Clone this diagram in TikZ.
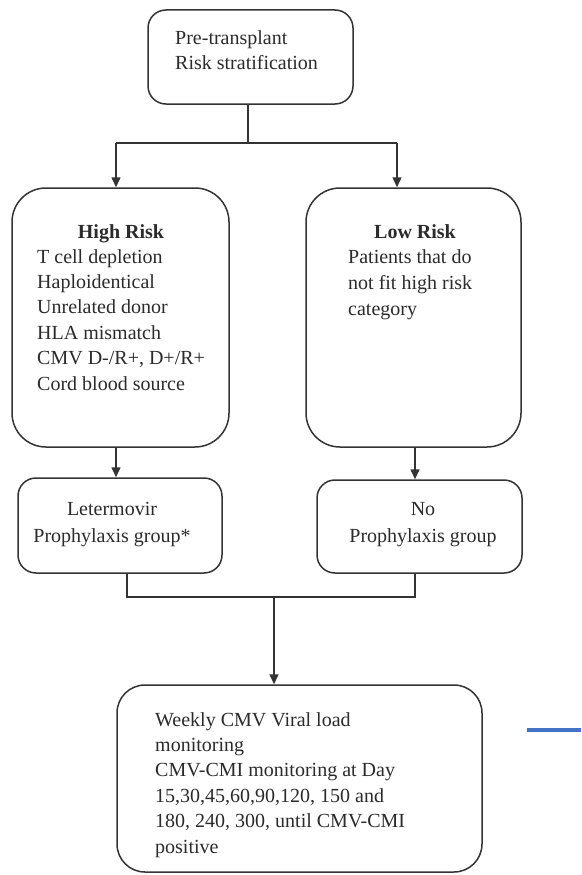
\documentclass[tikz,border=0pt]{standalone}
\usepackage{fontspec}
\setmainfont{Liberation Serif}
\usetikzlibrary{arrows.meta}
\definecolor{ink}{HTML}{333333}
\definecolor{txt}{HTML}{2B2B2B}
\definecolor{accent}{HTML}{4472C4}
\tikzset{
  box/.style={draw=ink, line width=1.5pt, inner sep=0pt, fill=white},
  label/.style={inner sep=0pt, text=txt, font=\fontsize{20}{25.4}\selectfont},
  conn/.style={draw=ink, line width=1.5pt},
  arr/.style={conn, -{Triangle[length=10pt,width=9pt]}},
}
\begin{document}
\begin{tikzpicture}[x=1pt,y=-1pt]
\useasboundingbox (0,0) rectangle (581,875);
% boxes
\node[box, rounded corners=18pt, minimum width=205pt, minimum height=94pt] (top) at (250.5,57) {};
\node[box, rounded corners=34pt, minimum width=217pt, minimum height=259pt] (high) at (120.5,317.5) {};
\node[box, rounded corners=34pt, minimum width=215pt, minimum height=259pt] (low) at (413.5,317.5) {};
\node[box, rounded corners=18pt, minimum width=204pt, minimum height=95pt] (let) at (120,525.5) {};
\node[box, rounded corners=18pt, minimum width=205pt, minimum height=93pt] (nop) at (419.5,526.5) {};
\node[box, rounded corners=28pt, minimum width=365pt, minimum height=187pt] (mon) at (299.5,778.5) {};
% texts
\node[label, anchor=north west, align=left] (toptext) at (175,30) {Pre-transplant\\Risk stratification};
\node[label, anchor=base] (hightitle) at (121,238) {\textbf{High Risk}};
\node[label, anchor=north west, align=left] (hightext) at (37,249) {T cell depletion\\Haploidentical\\Unrelated donor\\HLA mismatch\\CMV D-/R+, D+/R+\\Cord blood source};
\node[label, anchor=base] (lowtitle) at (415,238) {\textbf{Low Risk}};
\node[label, anchor=north west, align=left, font=\fontsize{20}{26.3}\selectfont] (lowtext) at (348,249) {Patients that do\\not fit high risk\\category};
\node[label, anchor=north, align=center, font=\fontsize{20}{27}\selectfont] (lettext) at (112,502) {Letermovir\\Prophylaxis group*};
\node[label, anchor=north, align=center, font=\fontsize{20}{27}\selectfont] (noptext) at (423,502) {No\\Prophylaxis group};
\node[label, anchor=north west, align=left] (montext) at (155,712) {Weekly CMV Viral load\\monitoring\\CMV-CMI monitoring at Day\\15,30,45,60,90,120, 150 and\\180, 240, 300, until CMV-CMI\\positive};
% connectors
\coordinate (split) at (248,143);
\coordinate (jl) at (116,143);
\coordinate (jr) at (397,143);
\draw[conn] (top.south -| split) -- (split);
\draw[conn] (jl) -- (jr);
\draw[arr] (jl) -- (jl |- high.north);
\draw[arr] (jr) -- (jr |- low.north);
\coordinate (hx) at (116,0);
\coordinate (lx) at (415,0);
\draw[arr] (high.south -| hx) -- (let.north -| hx);
\draw[arr] (low.south -| lx) -- (nop.north -| lx);
\coordinate (ml) at (127,597);
\coordinate (mr) at (415,597);
\coordinate (merge) at (274,597);
\draw[conn] (let.south -| ml) -- (ml) -- (mr) -- (nop.south -| mr);
\draw[arr] (merge) -- (merge |- mon.north);
% stray blue stroke
\coordinate (b1) at (527,730);
\coordinate (b2) at (581,730);
\draw[draw=accent, line width=4pt] (b1) -- (b2);
\end{tikzpicture}
\end{document}
